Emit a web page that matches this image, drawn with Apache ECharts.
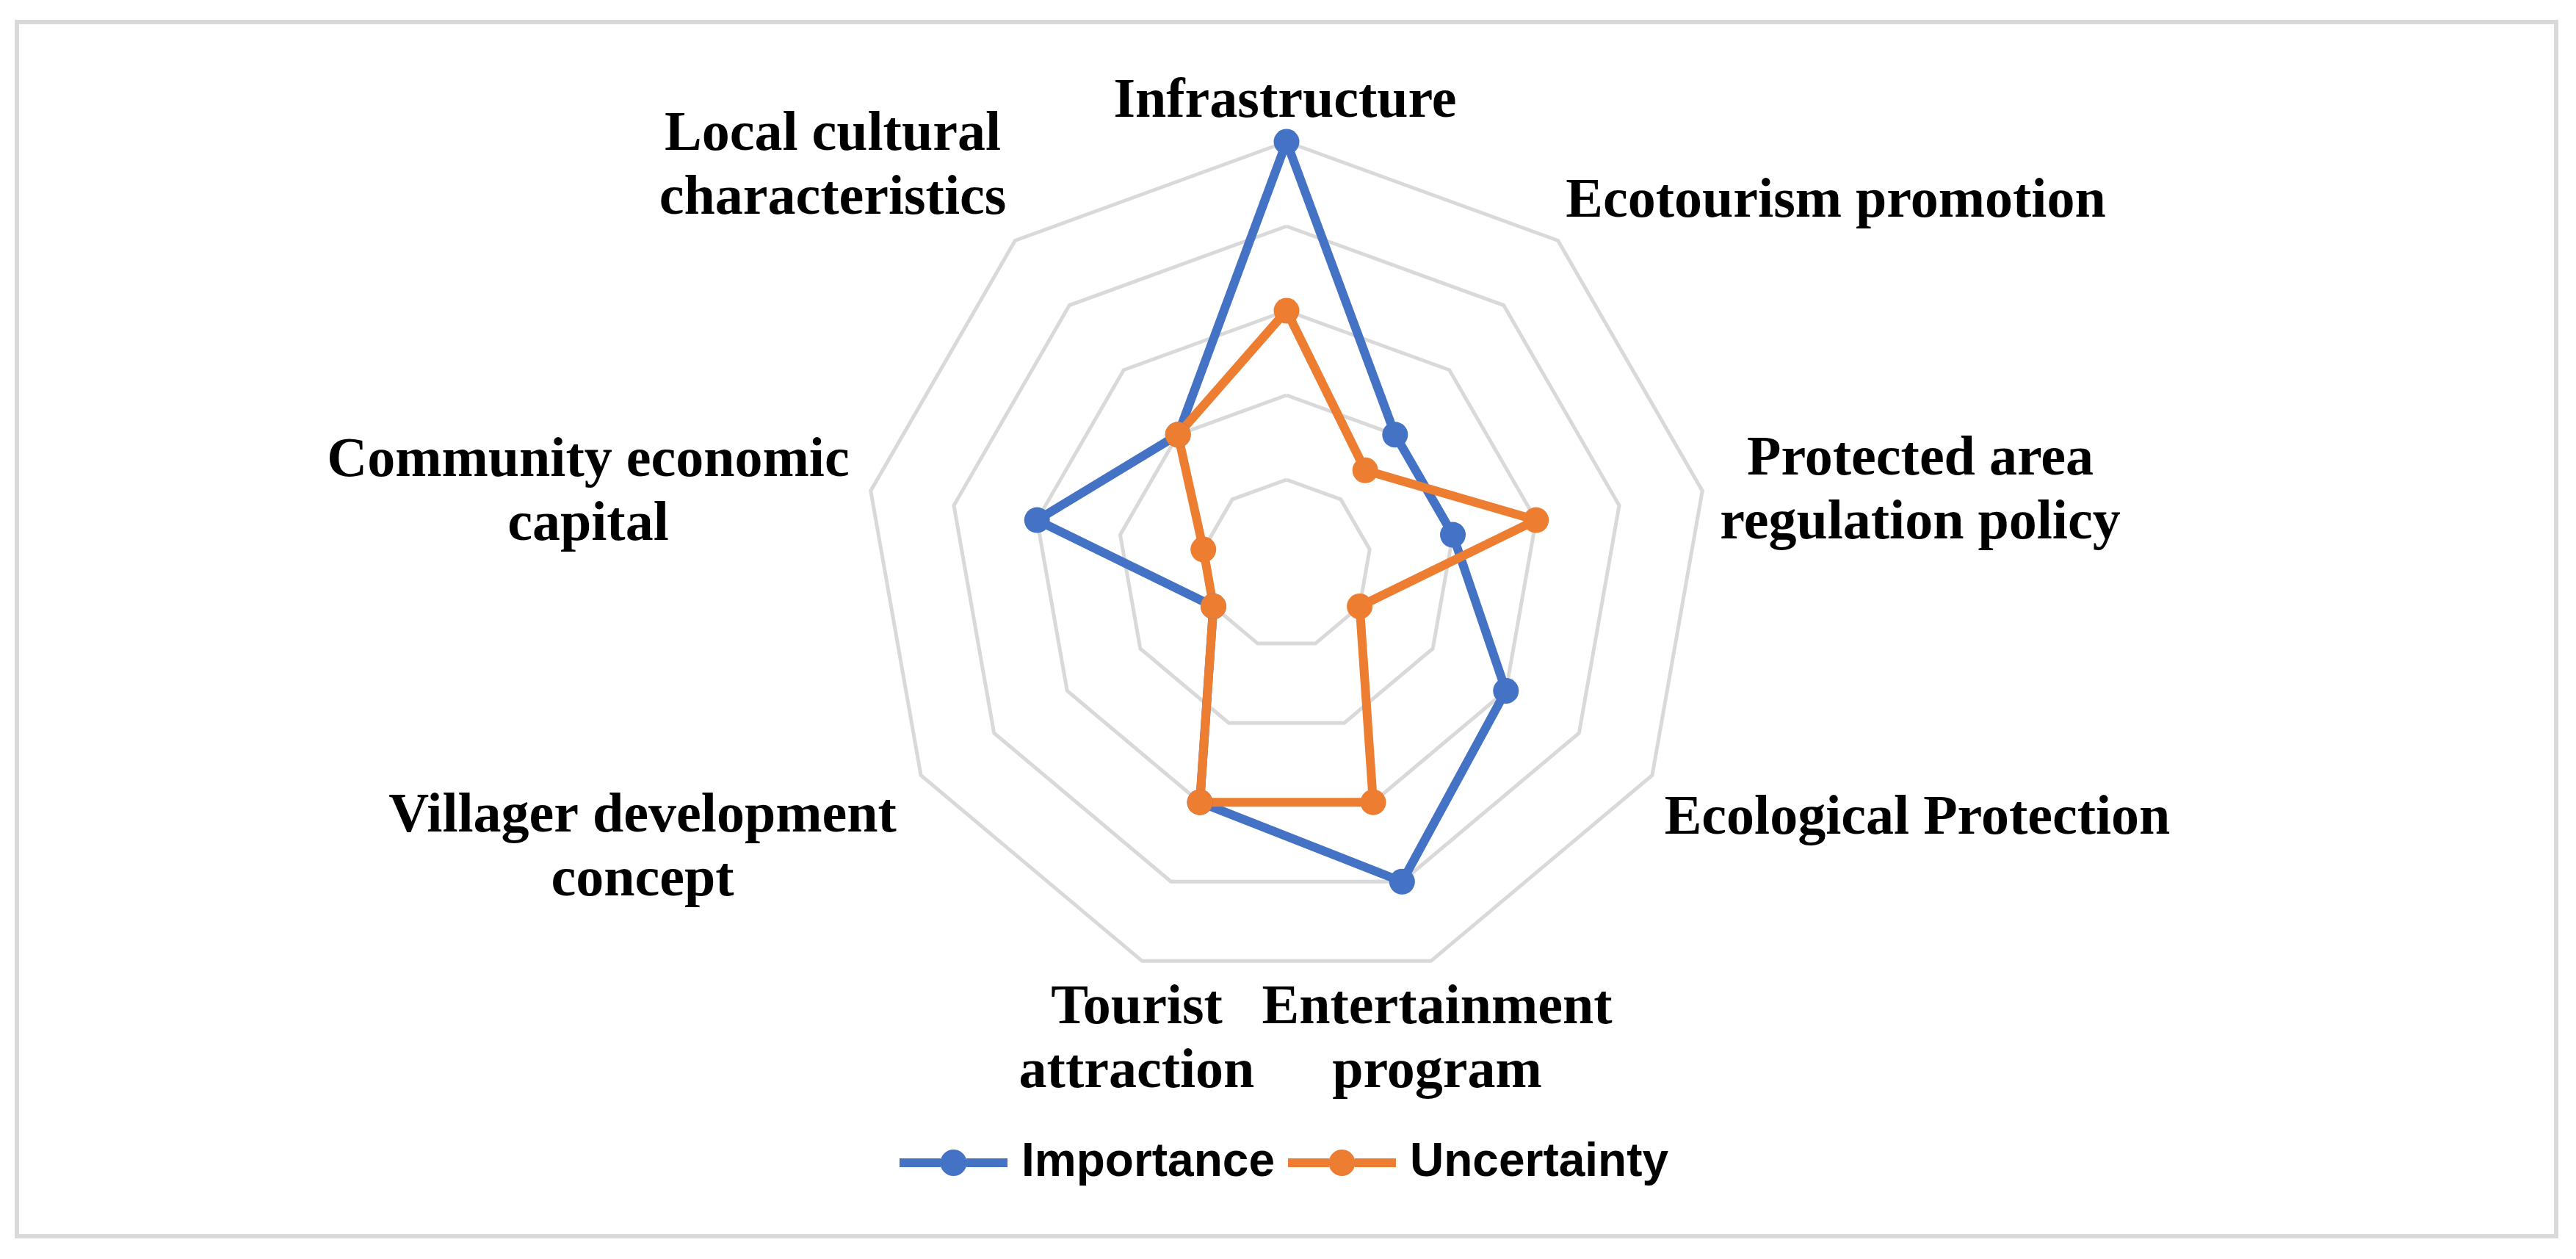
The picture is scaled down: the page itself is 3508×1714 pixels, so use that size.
<!DOCTYPE html>
<html>
<head>
<meta charset="utf-8">
<script src="https://cdn.jsdelivr.net/npm/echarts@6/dist/echarts.min.js"></script>
<style>
html,body{margin:0;padding:0;background:#fff;}
#chart{width:3508px;height:1714px;}
</style>
</head>
<body>
<div id="chart"></div>
<script>
// Categories in clockwise order starting from the top
const categories = [
  'Infrastructure',
  'Ecotourism promotion',
  'Protected area\nregulation policy',
  'Ecological Protection',
  'Entertainment\nprogram',
  'Tourist\nattraction',
  'Villager development\nconcept',
  'Community economic\ncapital',
  'Local cultural\ncharacteristics'
];
const importance  = [5, 2, 2, 3, 4, 3, 1, 3, 2];
const uncertainty = [3, 1.45, 3, 1, 3, 3, 1, 1, 2];
const seriesNames = ['Importance', 'Uncertainty'];
const axisMax = 5;

// label anchor positions (layout only)
const labelPos = [
  [1750, 139], [2500, 275], [2615, 670], [2611, 1115], [1957, 1417],
  [1548, 1417], [875, 1156], [801, 672], [1134, 228]
];

// ECharts radar places indicators counter-clockwise; reorder
const order = [0, 8, 7, 6, 5, 4, 3, 2, 1];
const indicator = order.map(i => ({ name: categories[i], max: axisMax, min: 0 }));
const reorder = arr => order.map(i => arr[i]);

const chart = echarts.init(document.getElementById('chart'), null, { renderer: 'canvas' });

const labelGraphics = categories.map((c, i) => ({
  type: 'text',
  x: labelPos[i][0],
  y: labelPos[i][1],
  silent: true,
  style: {
    text: c,
    align: 'center',
    verticalAlign: 'middle',
    textAlign: 'center',
    textVerticalAlign: 'middle',
    font: 'bold 76px "Liberation Serif"',
    lineHeight: 87,
    fill: '#000000'
  }
}));

const legendIcon = 'path://M0,12L56,12L56,24L0,24ZM91,12L147,12L147,24L91,24ZM55.5,18A18,18 0 1,1 91.5,18A18,18 0 1,1 55.5,18Z';

chart.setOption({
  backgroundColor: '#ffffff',
  animation: false,
  color: ['#4472C4', '#ED7D31'],
  legend: {
    data: seriesNames.map(n => ({ name: n, icon: legendIcon })),
    left: 1220,
    top: 1543,
    itemWidth: 147,
    itemHeight: 36,
    itemGap: 18,
    textStyle: {
      fontFamily: 'Liberation Sans', fontWeight: 'bold', fontSize: 64,
      lineHeight: 70, color: '#000', padding: [0, 0, 0, 14]
    }
  },
  radar: {
    center: [1752, 768],
    radius: 575,
    startAngle: 90,
    shape: 'polygon',
    splitNumber: 5,
    indicator: indicator,
    axisName: { show: false },
    axisLine: { show: false },
    axisTick: { show: false },
    axisLabel: { show: false },
    splitArea: { show: false },
    splitLine: { lineStyle: { color: '#D9D9D9', width: 5 } }
  },
  series: [{
    type: 'radar',
    symbol: 'circle',
    symbolSize: 35,
    data: [
      { name: seriesNames[0], value: reorder(importance),
        lineStyle: { width: 12, color: '#4472C4' }, itemStyle: { color: '#4472C4' } },
      { name: seriesNames[1], value: reorder(uncertainty),
        lineStyle: { width: 12, color: '#ED7D31' }, itemStyle: { color: '#ED7D31' } }
    ]
  }],
  graphic: [{
    type: 'rect',
    shape: { x: 23, y: 30, width: 3458, height: 1653 },
    style: { fill: 'none', stroke: '#D9D9D9', lineWidth: 6 },
    silent: true
  }].concat(labelGraphics)
});
</script>
</body>
</html>
